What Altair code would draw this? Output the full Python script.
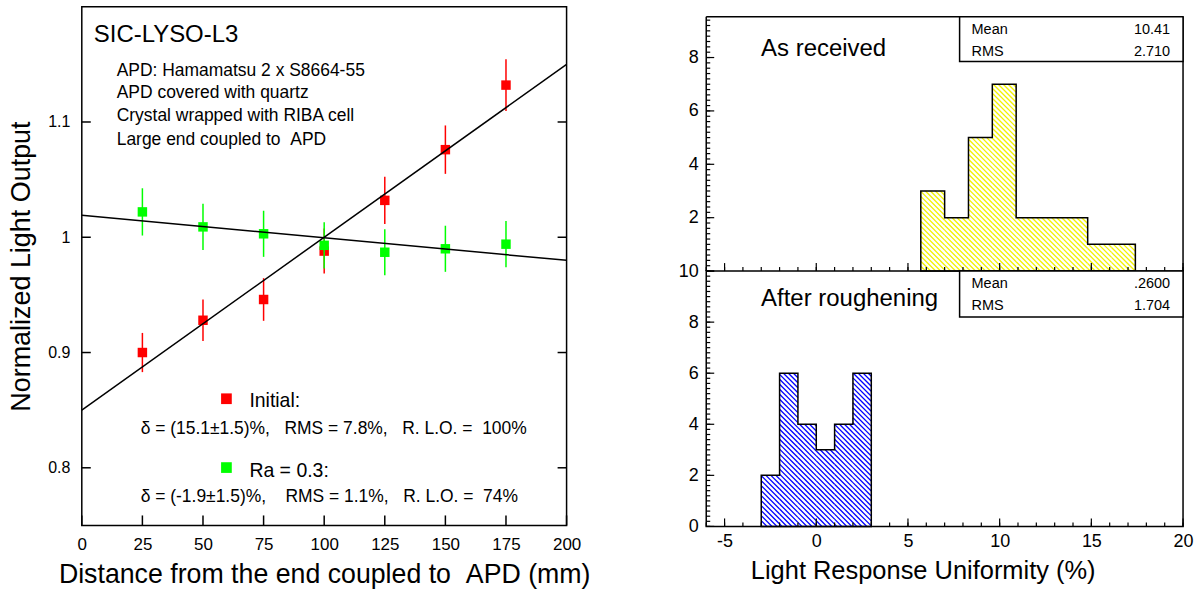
import math
import altair as alt
import pandas as pd

FONT = "Liberation Sans"

# ---------------- data ----------------
positions = [25, 50, 75, 100, 125, 150, 175]
initial_lo = [0.900, 0.928, 0.946, 0.988, 1.032, 1.076, 1.132]
initial_err = [0.017, 0.018, 0.0185, 0.0195, 0.0205, 0.021, 0.0225]
ra_lo = [1.022, 1.009, 1.003, 0.993, 0.987, 0.990, 0.994]
ra_err = [0.0205, 0.020, 0.020, 0.020, 0.020, 0.020, 0.020]
fit_x = [0, 200]
initial_fit = [0.850, 1.150]
ra_fit = [1.019, 0.980]

left_xticks = [0, 25, 50, 75, 100, 125, 150, 175, 200]
left_yticks = [0.8, 0.9, 1.0, 1.1]

as_edges = [5.7, 7.0, 8.3, 9.6, 10.9, 12.2, 13.5, 14.8, 16.1, 17.4]
as_counts = [3, 2, 5, 7, 2, 2, 2, 1, 1]
after_edges = [-3, -2, -1, 0, 1, 2, 3]
after_counts = [2, 6, 4, 3, 4, 6]
as_stats = ["10.41", "2.710"]
after_stats = [".2600", "1.704"]

right_xlabels = [-5, 0, 5, 10, 15, 20]
top_ylabels = [2, 4, 6, 8]
bottom_ylabels = [0, 2, 4, 6, 8, 10]

# ---------------- geometry / style ----------------
LW, LH = 486, 520
RW, RTH, RBH = 478, 265, 256
FRAME_TOP = 10
TOP_FRAME_VALUE = 9.53
y_top_max = TOP_FRAME_VALUE * RTH / (RTH - FRAME_TOP)
X_MIN, X_MAX = -6, 20
NB = "\u00a0"


def label(txt, px, py, size, align="left", baseline="alphabetic"):
    return alt.Chart(pd.DataFrame({"t": [txt]})).mark_text(
        align=align, baseline=baseline, font=FONT, fontSize=size, color="black"
    ).encode(x=alt.value(px), y=alt.value(py), text="t:N")


def hatch_segments(edges, counts, sx, sy, ymax, period=5.0):
    """Diagonal '\\' hatch lines clipped to each histogram bar (pixel-space geometry)."""
    rects = []
    for i, c in enumerate(counts):
        rects.append(((edges[i] - X_MIN) * sx, (edges[i + 1] - X_MIN) * sx,
                      (ymax - c) * sy, ymax * sy))
    cmin = rects[0][0] - ymax * sy
    cmax = rects[-1][1] - min(r[2] for r in rects)
    rows = []
    c = math.floor(cmin / period) * period
    while c <= cmax:
        for x0, x1, yt, yb in rects:
            lo = max(x0, yt + c)
            hi = min(x1, yb + c)
            if hi - lo > 0.2:
                rows.append({"x": X_MIN + lo / sx, "y": ymax - (lo - c) / sy,
                             "x2": X_MIN + hi / sx, "y2": ymax - (hi - c) / sy})
        c += period
    return pd.DataFrame(rows)


# ---------------- left panel ----------------
xs = alt.Scale(domain=[0, 200], nice=False, zero=False)
ys = alt.Scale(domain=[0.75, 1.2], nice=False, zero=False)

xaxis_l = alt.Axis(values=left_xticks, title="Distance from the end coupled to" + NB + NB + "APD (mm)",
                   labelFontSize=17, labelPadding=11, titleFontSize=26.8, titlePadding=9,
                   labelFlush=False, labelOverlap=False)
yaxis_l = alt.Axis(values=left_yticks, format="~g", title="Normalized Light Output",
                   labelFontSize=16, labelPadding=12, titleFontSize=27, titlePadding=12,
                   labelFlush=False, labelOverlap=False)


def LX(f):
    return alt.X(f, scale=xs, axis=xaxis_l)


def LY(f):
    return alt.Y(f, scale=ys, axis=yaxis_l)


red = pd.DataFrame({"pos": positions, "v": initial_lo,
                    "lo": [v - e for v, e in zip(initial_lo, initial_err)],
                    "hi": [v + e for v, e in zip(initial_lo, initial_err)]})
green = pd.DataFrame({"pos": positions, "v": ra_lo,
                      "lo": [v - e for v, e in zip(ra_lo, ra_err)],
                      "hi": [v + e for v, e in zip(ra_lo, ra_err)]})

red_err = alt.Chart(red).mark_rule(color="#ff0000", strokeWidth=1.5).encode(
    x=LX("pos:Q"), y=LY("lo:Q"), y2="hi:Q")
red_pts = alt.Chart(red).mark_square(color="#ff0000", size=90, opacity=1).encode(
    x=LX("pos:Q"), y=LY("v:Q"))
green_err = alt.Chart(green).mark_rule(color="#00ff00", strokeWidth=1.5).encode(
    x=LX("pos:Q"), y=LY("lo:Q"), y2="hi:Q")
green_pts = alt.Chart(green).mark_square(color="#00ff00", size=90, opacity=1).encode(
    x=LX("pos:Q"), y=LY("v:Q"))

fit_red = alt.Chart(pd.DataFrame({"x": fit_x, "y": initial_fit})).mark_line(
    color="black", strokeWidth=1.5).encode(x=LX("x:Q"), y=LY("y:Q"))
fit_green = alt.Chart(pd.DataFrame({"x": fit_x, "y": ra_fit})).mark_line(
    color="black", strokeWidth=1.5).encode(x=LX("x:Q"), y=LY("y:Q"))

lxt = alt.Chart(pd.DataFrame({"t": left_xticks})).mark_rule(color="black", strokeWidth=1.5).encode(
    x=LX("t:Q"), y=alt.value(LH), y2=alt.value(LH - 10))
lyt_l = alt.Chart(pd.DataFrame({"t": left_yticks})).mark_rule(color="black", strokeWidth=1.5).encode(
    y=LY("t:Q"), x=alt.value(0), x2=alt.value(9))
lyt_r = alt.Chart(pd.DataFrame({"t": left_yticks})).mark_rule(color="black", strokeWidth=1.5).encode(
    y=LY("t:Q"), x=alt.value(LW), x2=alt.value(LW - 9))

leg_red = alt.Chart(pd.DataFrame({"a": [0]})).mark_square(color="#ff0000", size=115, opacity=1).encode(
    x=alt.value(145), y=alt.value(393))
leg_green = alt.Chart(pd.DataFrame({"a": [0]})).mark_square(color="#00ff00", size=115, opacity=1).encode(
    x=alt.value(145), y=alt.value(462))

left_texts = [
    label("SIC-LYSO-L3", 12, 35, 24),
    label("APD: Hamamatsu 2 x S8664-55", 35, 69, 17.5),
    label("APD covered with quartz", 35, 92, 17.5),
    label("Crystal wrapped with RIBA cell", 35, 115, 17.5),
    label("Large end coupled to" + NB + NB + "APD", 35, 139, 17.5),
    label("Initial:", 168, 401, 19.5),
    label("δ = (15.1±1.5)%," + NB * 3 + "RMS = 7.8%," + NB * 3 + "R. L.O. =" + NB * 2 + "100%", 59, 428, 17.5),
    label("Ra = 0.3:", 168, 471, 19.5),
    label("δ = (-1.9±1.5)%," + NB * 4 + "RMS = 1.1%," + NB * 3 + "R. L.O. =" + NB * 2 + "74%", 59, 497, 17.5),
]

left = alt.layer(red_err, lxt, lyt_l, lyt_r, red_pts, green_err, green_pts, fit_red, fit_green,
                 leg_red, leg_green, *left_texts).properties(width=LW, height=LH)

# ---------------- right panels ----------------
xr = alt.Scale(domain=[X_MIN, X_MAX], nice=False, zero=False)
yt = alt.Scale(domain=[0, y_top_max], nice=False, zero=False)
yb = alt.Scale(domain=[0, 10], nice=False, zero=False)

sx = RW / (X_MAX - X_MIN)
top_hatch = hatch_segments(as_edges, as_counts, sx, RTH / y_top_max, y_top_max)
bot_hatch = hatch_segments(after_edges, after_counts, sx, RBH / 10, 10)

as_df = pd.DataFrame({"edge": as_edges, "count": as_counts + [as_counts[-1]]})
after_df = pd.DataFrame({"edge": after_edges, "count": after_counts + [after_counts[-1]]})

top_yaxis = alt.Axis(values=top_ylabels, format="d", title="", labelFontSize=18, labelPadding=8,
                     labelFlush=False, labelOverlap=False)
bot_yaxis = alt.Axis(values=bottom_ylabels, format="d", title="", labelFontSize=18, labelPadding=8,
                     labelFlush=False, labelOverlap=False)
bot_xaxis = alt.Axis(values=right_xlabels, labelExpr="'' + datum.value",
                     title="Light Response Uniformity (%)", labelFontSize=18, labelPadding=6,
                     titleFontSize=25.5, titleX=217, titleY=52, titleBaseline="alphabetic",
                     titleAlign="center", labelFlush=False, labelOverlap=False)


def TX(f):
    return alt.X(f, scale=xr, axis=None)


def TY(f):
    return alt.Y(f, scale=yt, axis=top_yaxis)


def BX(f):
    return alt.X(f, scale=xr, axis=bot_xaxis)


def BY(f):
    return alt.Y(f, scale=yb, axis=bot_yaxis)


def hatch_layer(df, color, X, Y):
    return alt.Chart(df).mark_rule(color=color, strokeWidth=1.3).encode(
        x=X("x:Q"), y=Y("y:Q"), x2="x2:Q", y2="y2:Q")


def outline(df, X, Y):
    return alt.Chart(df).mark_area(
        interpolate="step-after", fill="white", fillOpacity=0, stroke="black",
        strokeWidth=1.5).encode(x=X("edge:Q"), y=Y("count:Q"))


x_major = [-5, 0, 5, 10, 15, 20]
x_minor = list(range(-6, 21))
top_y_major = [0, 2, 4, 6, 8]
top_y_minor = [round(0.2 * i, 1) for i in range(0, 48)]
bot_y_major = [0, 2, 4, 6, 8, 10]
bot_y_minor = [round(0.2 * i, 1) for i in range(0, 51)]


def xticks(vals, H, length, enc):
    return alt.Chart(pd.DataFrame({"t": vals})).mark_rule(color="black", strokeWidth=1.2).encode(
        x=enc("t:Q"), y=alt.value(H), y2=alt.value(H - length))


def yticks(vals, length, enc):
    return alt.Chart(pd.DataFrame({"t": vals})).mark_rule(color="black", strokeWidth=1.2).encode(
        y=enc("t:Q"), x=alt.value(0), x2=alt.value(length))


def box(y0, y1):
    return alt.Chart(pd.DataFrame({"a": [0]})).mark_rect(
        fill="white", stroke="black", strokeWidth=1.5).encode(
        x=alt.value(254), x2=alt.value(RW), y=alt.value(y0), y2=alt.value(y1))


def frame_rule(x0, x1, y0, y1):
    enc = {"x": alt.value(x0), "y": alt.value(y0)}
    if x1 is not None:
        enc["x2"] = alt.value(x1)
    if y1 is not None:
        enc["y2"] = alt.value(y1)
    return alt.Chart(pd.DataFrame({"a": [0]})).mark_rule(color="black", strokeWidth=1.5).encode(**enc)


top = alt.layer(
    hatch_layer(top_hatch, "#f2f200", TX, TY),
    outline(as_df, TX, TY),
    xticks(x_minor, RTH, 4, TX), xticks(x_major, RTH, 8, TX),
    yticks(top_y_minor, 4, TY), yticks(top_y_major, 8, TY),
    frame_rule(0, RW, FRAME_TOP, None),
    frame_rule(0, None, FRAME_TOP, RTH),
    frame_rule(RW, None, FRAME_TOP, RTH),
    box(FRAME_TOP, 55),
    label("Mean", 266, 27, 14.5), label(as_stats[0], 465, 27, 14.5, align="right"),
    label("RMS", 266, 49, 14.5), label(as_stats[1], 465, 49, 14.5, align="right"),
    label("As received", 55, 49, 24),
).properties(width=RW, height=RTH, view=alt.ViewBackground(strokeOpacity=0))

bottom = alt.layer(
    hatch_layer(bot_hatch, "#0000ff", BX, BY),
    outline(after_df, BX, BY),
    xticks(x_minor, RBH, 4, BX), xticks(x_major, RBH, 8, BX),
    yticks(bot_y_minor, 4, BY), yticks(bot_y_major, 8, BY),
    box(0, 46),
    label("Mean", 266, 17, 14.5), label(after_stats[0], 465, 17, 14.5, align="right"),
    label("RMS", 266, 39, 14.5), label(after_stats[1], 465, 39, 14.5, align="right"),
    label("After roughening", 55, 35, 24),
).properties(width=RW, height=RBH)

right = alt.vconcat(top, bottom, spacing=0, bounds="flush")

chart = alt.hconcat(left, right, spacing=140, bounds="flush").properties(
    padding={"left": 7, "top": 5, "right": 5, "bottom": 0},
    background="white",
).configure_view(stroke="black", strokeWidth=1.5).configure_axis(
    labelFont=FONT, titleFont=FONT, labelColor="black", titleColor="black",
    titleFontWeight="normal", grid=False, domain=False, ticks=False,
)

chart.save("out.html", embed_options={"renderer": "svg", "actions": False})
